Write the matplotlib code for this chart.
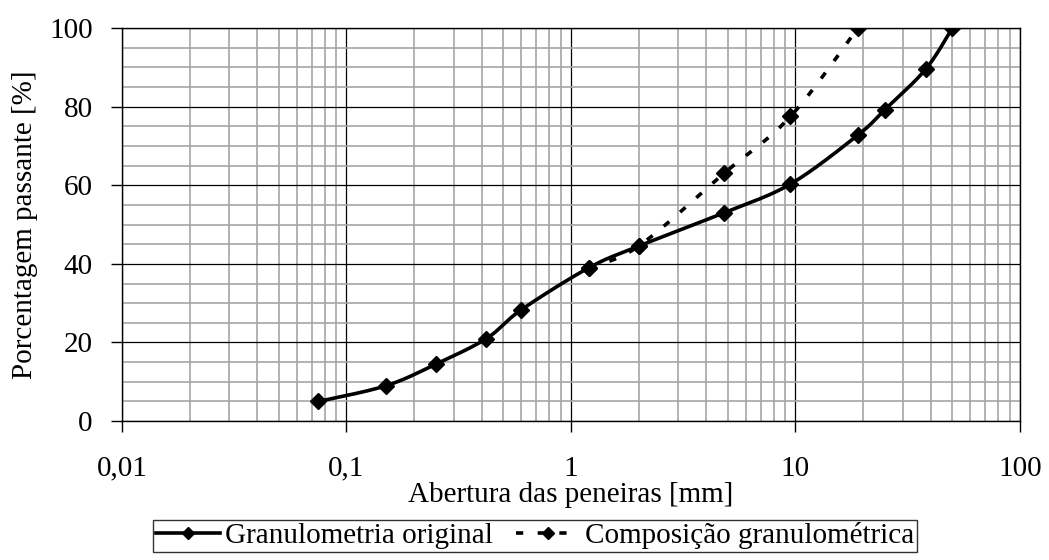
import numpy as np
import matplotlib.pyplot as plt
from matplotlib.ticker import FixedLocator, LogLocator, NullFormatter, MultipleLocator

plt.rcParams['font.family'] = ['Liberation Serif', 'DejaVu Serif']

# abertura das peneiras [mm] e porcentagem passante [%]
peneiras_orig = [0.075, 0.15, 0.25, 0.42, 0.6, 1.2, 2.0, 4.8, 9.5, 19, 25, 38, 50]
passante_orig = [5, 9, 14.5, 21, 28.3, 39, 44.5, 53, 60.3, 72.8, 79.2, 89.5, 100]

peneiras_comp = [1.2, 2.0, 4.8, 9.5, 19]
passante_comp = [39, 44.5, 63, 77.5, 100]

xticks = [0.01, 0.1, 1, 10, 100]
xticklabels = ['0,01', '0,1', '1', '10', '100']


def suavizar(x, y, n=30):
    # curva suavizada (bezier tipo Excel) no espaco log-x
    lx = np.log10(x)
    y = np.asarray(y, dtype=float)
    P = np.column_stack([lx, y])
    P = np.vstack([P[0], P, P[-1]])
    out = []
    t = np.linspace(0, 1, n)[:, None]
    for i in range(1, len(P) - 2):
        p0, p1, p2, p3 = P[i - 1], P[i], P[i + 1], P[i + 2]
        c1 = p1 + (p2 - p0) / 6
        c2 = p2 - (p3 - p1) / 6
        seg = ((1 - t) ** 3) * p1 + 3 * ((1 - t) ** 2) * t * c1 + 3 * (1 - t) * t ** 2 * c2 + t ** 3 * p2
        out.append(seg)
    out = np.vstack(out)
    return 10 ** out[:, 0], out[:, 1]


fig = plt.figure(figsize=(10.49, 5.6), dpi=100)
ax = fig.add_axes([0.1163, 0.248, 0.856, 0.702])

ax.set_xscale('log')
ax.set_xlim(0.01, 100)
ax.set_ylim(0, 100)

tracejado = (0, (2, 4))

xs, ys = suavizar(peneiras_orig, passante_orig)
ax.plot(xs, ys, color='black', lw=2.6, zorder=4)
ax.plot(peneiras_orig, passante_orig, ls='none', marker='D', ms=8, color='black', zorder=5)

xs2, ys2 = suavizar(peneiras_comp, passante_comp)
ax.plot(xs2, ys2, color='black', lw=2.6, ls=tracejado, zorder=3)
ax.plot(peneiras_comp, passante_comp, ls='none', marker='D', ms=8, color='black', zorder=5)

# grades
ax.xaxis.set_major_locator(FixedLocator(xticks))
ax.set_xticklabels(xticklabels)
ax.xaxis.set_minor_locator(LogLocator(base=10, subs=np.arange(2, 10)))
ax.xaxis.set_minor_formatter(NullFormatter())
ax.yaxis.set_major_locator(MultipleLocator(20))
ax.yaxis.set_minor_locator(MultipleLocator(5))

ax.grid(which='major', color='black', lw=0.9)
ax.grid(which='minor', color='#a6a6a6', lw=1.2)
ax.set_axisbelow(True)

for s in ax.spines.values():
    s.set_color('black')
    s.set_linewidth(1.0)

ax.tick_params(which='major', direction='out', length=8, width=1, labelsize=21)
ax.tick_params(axis='x', which='major', pad=17)
ax.tick_params(axis='y', which='major', pad=13)
ax.tick_params(which='minor', length=0)

ax.set_xlabel('Abertura das peneiras [mm]', fontsize=21, labelpad=0)
ax.set_ylabel('Porcentagem passante [%]', fontsize=21, labelpad=8)

h1 = plt.Line2D([], [], color='black', lw=2.6, marker='D', ms=6)
h2 = plt.Line2D([], [], color='black', lw=2.6, ls=tracejado, marker='D', ms=6)
leg = fig.legend([h1, h2], ['Granulometria original', 'Composição granulométrica'],
                 loc='center', bbox_to_anchor=(0.51, 0.043), ncol=2, fontsize=21,
                 frameon=True, fancybox=False, edgecolor='black', handlelength=2.2,
                 handletextpad=0.15, columnspacing=0.8, borderpad=0.1, borderaxespad=0)
leg.get_frame().set_linewidth(1.0)

fig.savefig('out.png', dpi=100)
